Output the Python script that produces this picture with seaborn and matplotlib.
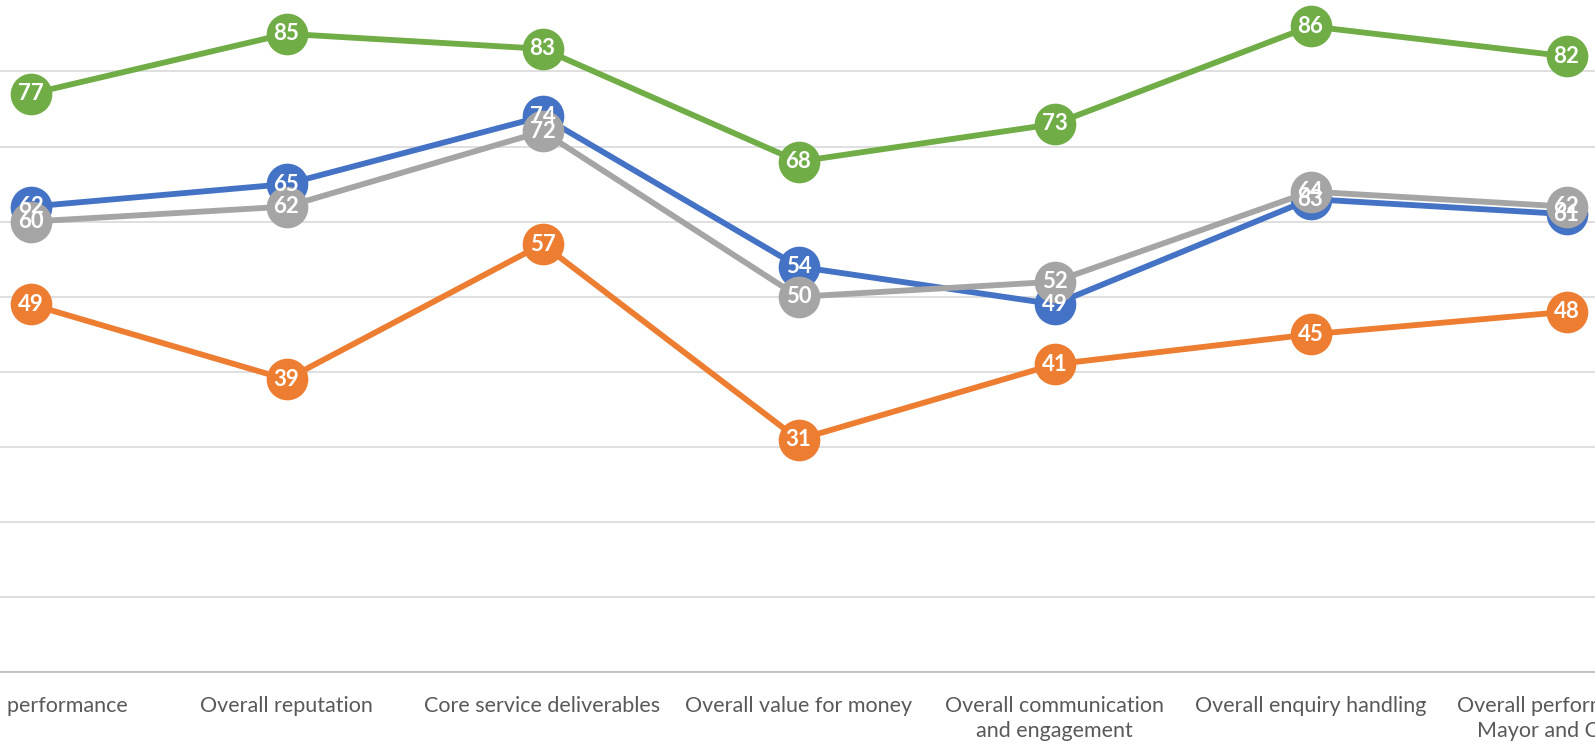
import pandas as pd
import matplotlib.pyplot as plt
import seaborn as sns

categories = [
    "Overall performance",
    "Overall reputation",
    "Core service deliverables",
    "Overall value for money",
    "Overall communication\nand engagement",
    "Overall enquiry handling",
    "Overall performance of\nMayor and Council",
]
series_names = ["Series 1", "Series 2", "Series 3", "Series 4"]
blue_vals = [62, 65, 74, 54, 49, 63, 61]
orange_vals = [49, 39, 57, 31, 41, 45, 48]
gray_vals = [60, 62, 72, 50, 52, 64, 62]
green_vals = [77, 85, 83, 68, 73, 86, 82]
colors = ["#4472C4", "#ED7D31", "#A5A5A5", "#70AD47"]

all_vals = [blue_vals, orange_vals, gray_vals, green_vals]
df = pd.DataFrame({
    "pos": list(range(len(categories))) * 4,
    "score": [v for vals in all_vals for v in vals],
    "series": [name for name in series_names for _ in categories],
})

sns.set_style("white")
plt.rcParams["font.family"] = ["Lato", "DejaVu Sans"]

fig = plt.figure(figsize=(15.95, 7.46), dpi=100)
ax = fig.add_axes([0, 1 - 672.4 / 746, 1, 672.4 / 746])

sns.lineplot(
    data=df, x="pos", y="score", hue="series", palette=colors,
    marker="o", markersize=30, markeredgewidth=0, linewidth=4.2,
    legend=False, ax=ax, zorder=3,
)

# data labels drawn on top of all markers
for vals in all_vals:
    for i, v in enumerate(vals):
        ax.text(i, v, str(v), ha="center", va="center", color="white",
                fontsize=16, fontweight="bold", zorder=5)

spacing = 256
x0 = 30.5
ax.set_xlim(-x0 / spacing, (1595 - x0) / spacing)
ax.set_ylim(0, 89.5)
ax.set_yticks(range(0, 90, 10))
ax.yaxis.grid(True, color="#D9D9D9", linewidth=1.2)
ax.set_yticklabels([])
ax.tick_params(axis="y", length=0)

ax.set_xticks(range(len(categories)))
ax.set_xticklabels(categories, fontsize=15.5, color="#595959", linespacing=1.3)
ax.tick_params(axis="x", length=0, pad=17)
ax.set_xlabel("")
ax.set_ylabel("")

for side in ["top", "left", "right"]:
    ax.spines[side].set_visible(False)
ax.spines["bottom"].set_color("#BFBFBF")
ax.spines["bottom"].set_linewidth(1.3)

fig.savefig("out.png", dpi=100)
